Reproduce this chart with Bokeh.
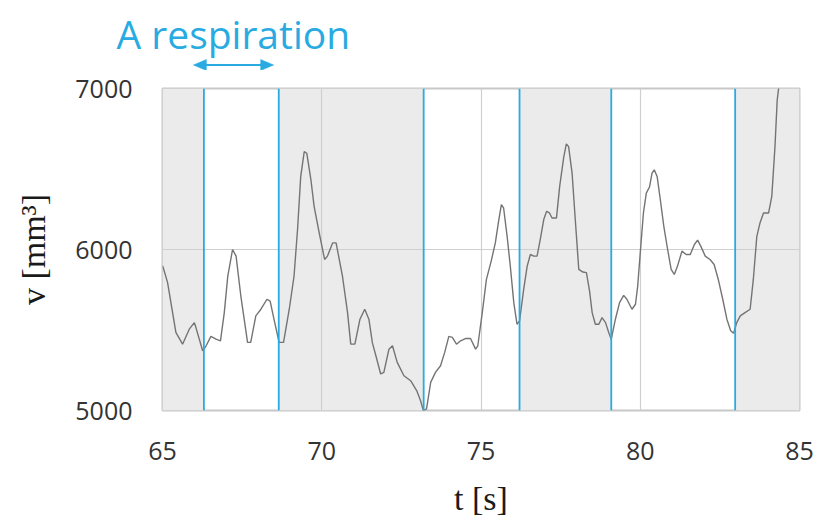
from bokeh.core.properties import value
from bokeh.embed import file_html
from bokeh.layouts import column
from bokeh.models import FixedTicker, Range1d, Span
from bokeh.plotting import figure
from bokeh.resources import INLINE

# Volume trace: time [s] and volume [mm^3]
t_s = [
    65.00, 65.04, 65.16, 65.42, 65.63, 65.84, 66.00, 66.05, 66.26, 66.37,
    66.52, 66.68, 66.82, 66.94, 67.05, 67.20, 67.31, 67.46, 67.67, 67.77,
    67.93, 68.09, 68.28, 68.38, 68.50, 68.66, 68.80, 68.98, 69.13, 69.24,
    69.34, 69.45, 69.53, 69.66, 69.76, 69.92, 70.09, 70.18, 70.34, 70.45,
    70.65, 70.81, 70.91, 71.04, 71.20, 71.35, 71.48, 71.59, 71.70, 71.85,
    71.95, 72.11, 72.22, 72.37, 72.58, 72.79, 72.98, 73.10, 73.19, 73.29,
    73.42, 73.57, 73.73, 73.86, 73.99, 74.10, 74.23, 74.36, 74.51, 74.67,
    74.83, 74.90, 75.04, 75.17, 75.32, 75.45, 75.56, 75.64, 75.71, 75.82,
    75.92, 76.03, 76.13, 76.21, 76.34, 76.45, 76.55, 76.66, 76.76, 76.86,
    76.97, 77.06, 77.15, 77.23, 77.37, 77.47, 77.60, 77.68, 77.75, 77.86,
    77.96, 78.07, 78.20, 78.31, 78.41, 78.49, 78.59, 78.70, 78.80, 78.91,
    79.01, 79.09, 79.22, 79.35, 79.48, 79.58, 79.74, 79.85, 79.92, 80.00,
    80.10, 80.19, 80.29, 80.37, 80.44, 80.53, 80.63, 80.74, 80.86, 80.97,
    81.07, 81.17, 81.31, 81.44, 81.57, 81.70, 81.80, 81.90, 82.04, 82.19,
    82.32, 82.45, 82.59, 82.72, 82.84, 82.93, 83.03, 83.14, 83.29, 83.45,
    83.55, 83.66, 83.76, 83.87, 84.03, 84.13, 84.23, 84.30, 84.38,
]
volume_mm3 = [
    5900, 5876, 5794, 5485, 5412, 5505, 5546, 5515, 5371, 5402,
    5460, 5443, 5433, 5608, 5835, 6000, 5959, 5711, 5423, 5423,
    5588, 5629, 5691, 5680, 5567, 5423, 5423, 5629, 5835, 6124,
    6454, 6608, 6598, 6433, 6268, 6103, 5938, 5959, 6041, 6041,
    5835, 5608, 5412, 5412, 5567, 5629, 5567, 5420, 5340, 5227,
    5237, 5381, 5402, 5299, 5216, 5185, 5124, 5062, 5000, 5010,
    5175, 5237, 5278, 5361, 5460, 5454, 5412, 5433, 5447, 5447,
    5381, 5402, 5608, 5814, 5928, 6041, 6186, 6278, 6258, 6082,
    5897, 5670, 5536, 5557, 5752, 5897, 5969, 5959, 5959, 6062,
    6186, 6237, 6227, 6196, 6196, 6392, 6577, 6656, 6639, 6474,
    6186, 5876, 5860, 5856, 5740, 5608, 5536, 5536, 5577, 5546,
    5485, 5443, 5567, 5670, 5715, 5691, 5629, 5660, 5773, 5979,
    6227, 6350, 6388, 6474, 6495, 6454, 6309, 6144, 6000, 5876,
    5845, 5897, 5990, 5969, 5969, 6031, 6058, 6021, 5959, 5938,
    5907, 5814, 5691, 5567, 5495, 5480, 5546, 5588, 5608, 5629,
    5814, 6082, 6165, 6227, 6227, 6330, 6639, 6928, 7060,
]

# Breathing-cycle boundaries (blue markers) and shaded phases
cycle_marks = [66.30, 68.65, 73.20, 76.21, 79.09, 82.98]
shade_left = [65.00, 68.65, 76.21, 82.98]
shade_right = [66.30, 73.20, 79.09, 85.00]

# One respiration span shown by the double arrow
resp_span = [65.97, 68.49]

x_ticks = [65, 70, 75, 80, 85]
y_ticks = [5000, 6000, 7000]
X0, X1 = 65, 85
Y0, Y1 = 5000, 7000

BLUE = "#29abe2"
SANS = "Open Sans"
SERIF = "Liberation Serif"

W = 817
HEAD_H = 70          # header strip with the caption and arrow
MAIN_H = 519 - HEAD_H
LEFT, RIGHT, TOP, BOTTOM = 162, 18, 88 - HEAD_H, 108

# ---------------- main chart ----------------
p = figure(
    width=W, height=MAIN_H,
    min_border_left=LEFT, min_border_right=RIGHT,
    min_border_top=TOP, min_border_bottom=BOTTOM,
    x_range=Range1d(X0, X1), y_range=Range1d(Y0, Y1),
    output_backend="svg", toolbar_location=None,
    background_fill_color="white", border_fill_color="white",
)
p.outline_line_color = "#c8c8c8"
p.outline_line_width = 2

# shaded phases below the grid
p.quad(left=shade_left, right=shade_right, bottom=Y0, top=Y1,
       fill_color="#ebebeb", line_color=None, level="image")

for g in (p.xgrid, p.ygrid):
    g.grid_line_color = "#cfcfcf"
    g.grid_line_width = 1.2
p.xgrid.ticker = FixedTicker(ticks=x_ticks)
p.ygrid.ticker = FixedTicker(ticks=y_ticks)

for ax in (p.xaxis, p.yaxis):
    ax.axis_line_color = None
    ax.major_tick_line_color = None
    ax.minor_tick_line_color = None
    ax.major_tick_in = 0
    ax.major_tick_out = 0
    ax.major_label_text_font = SANS
    ax.major_label_text_font_size = "25px"
    ax.major_label_text_color = "#333333"
    ax.axis_label_text_font = SERIF
    ax.axis_label_text_font_style = "normal"
    ax.axis_label_text_color = "#1a1a1a"
p.xaxis.ticker = FixedTicker(ticks=x_ticks)
p.yaxis.ticker = FixedTicker(ticks=y_ticks)
p.xaxis.major_label_standoff = 31
p.yaxis.major_label_standoff = 30

p.xaxis.axis_label = "t [s]"
p.xaxis.axis_label_text_font_size = "34px"
p.xaxis.axis_label_standoff = 17
p.yaxis.axis_label = "v [mm³]"
p.yaxis.axis_label_text_font_size = "34px"
p.yaxis.axis_label_standoff = 20

p.line(t_s, volume_mm3, line_color="#747474", line_width=1.4)

for tm in cycle_marks:
    p.add_layout(Span(location=tm, dimension="height",
                      line_color=BLUE, line_width=1.8))

# ---------------- header strip (pixel coordinates) ----------------
h = figure(
    width=W, height=HEAD_H, min_border=0,
    x_range=Range1d(0, W), y_range=Range1d(0, HEAD_H),
    x_axis_type=None, y_axis_type=None,
    output_backend="svg", toolbar_location=None,
    background_fill_color="white", border_fill_color="white",
)
h.frame_align = False
h.outline_line_color = None
h.grid.visible = False

h.text(x=[116], y=[HEAD_H - 33], text=["A respiration"],
       text_font=value(SANS), text_font_size="39px", text_color=BLUE,
       text_baseline="alphabetic", text_align="left")

# double arrow spanning one respiration, placed on the main chart's x scale
px_per_s = (W - LEFT - RIGHT) / (X1 - X0)
ax0 = LEFT + (resp_span[0] - X0) * px_per_s
ax1 = LEFT + (resp_span[1] - X0) * px_per_s
ay = 5.5
hl, hw = 13, 5.5
h.segment(x0=[ax0 + hl - 1], y0=[ay], x1=[ax1 - hl + 1], y1=[ay],
          line_color=BLUE, line_width=2)
h.patches(
    xs=[[ax0, ax0 + hl, ax0 + hl], [ax1, ax1 - hl, ax1 - hl]],
    ys=[[ay, ay + hw, ay - hw], [ay, ay + hw, ay - hw]],
    fill_color=BLUE, line_color=BLUE, line_width=0.5,
)

layout = column(h, p, spacing=0)
open("out.html", "w").write(file_html(layout, INLINE))
